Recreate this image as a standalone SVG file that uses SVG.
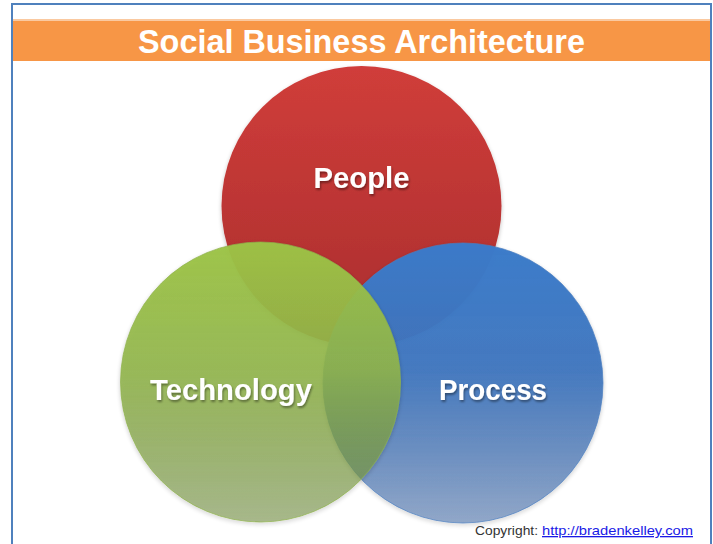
<svg xmlns="http://www.w3.org/2000/svg" width="713" height="544" viewBox="0 0 713 544">
  <defs>
    <linearGradient id="gRed" x1="0" y1="0" x2="0" y2="1">
      <stop offset="0" stop-color="#D03D3A"/>
      <stop offset="1" stop-color="#A92E2E"/>
    </linearGradient>
    <linearGradient id="gBlue" x1="0" y1="0" x2="0" y2="1">
      <stop offset="0" stop-color="#3A7BCA" stop-opacity="0.99"/>
      <stop offset="0.45" stop-color="#3E75BE" stop-opacity="0.95"/>
      <stop offset="1" stop-color="#466EAA" stop-opacity="0.52"/>
    </linearGradient>
    <linearGradient id="gGreen" x1="0" y1="0" x2="0" y2="1">
      <stop offset="0" stop-color="#9DC446" stop-opacity="0.97"/>
      <stop offset="0.45" stop-color="#91B54A" stop-opacity="0.9"/>
      <stop offset="1" stop-color="#6E8C3C" stop-opacity="0.52"/>
    </linearGradient>
    <filter id="shadow" x="-10%" y="-10%" width="120%" height="125%">
      <feGaussianBlur in="SourceAlpha" stdDeviation="2"/>
      <feOffset dx="0" dy="2" result="b"/>
      <feComponentTransfer><feFuncA type="linear" slope="0.25"/></feComponentTransfer>
      <feMerge><feMergeNode/><feMergeNode in="SourceGraphic"/></feMerge>
    </filter>
    <filter id="tshadow" x="-10%" y="-20%" width="120%" height="150%">
      <feGaussianBlur in="SourceAlpha" stdDeviation="1"/>
      <feOffset dx="1" dy="1.5"/>
      <feComponentTransfer><feFuncA type="linear" slope="0.4"/></feComponentTransfer>
      <feMerge><feMergeNode/><feMergeNode in="SourceGraphic"/></feMerge>
    </filter>
  </defs>
  <style>
    .lbl { font-family: "Liberation Sans", Arial, sans-serif; font-weight: bold; font-size: 29px; fill: #FFFFFF; text-anchor: middle; }
    .title { font-family: "Liberation Sans", Arial, sans-serif; font-weight: bold; font-size: 33px; fill: #FFFFFF; text-anchor: middle; }
    .copy { font-family: "Liberation Sans", Arial, sans-serif; font-size: 13px; fill: #333333; }
    .link { font-family: "Liberation Sans", Arial, sans-serif; font-size: 13px; fill: #1A1AE6; text-decoration: underline; }
  </style>
  <rect x="0" y="0" width="713" height="544" fill="#FFFFFF"/>
  <rect x="12" y="4" width="699" height="560" fill="none" stroke="#4F81BD" stroke-width="2"/>
  <g id="title">
    <rect x="13" y="19" width="697" height="2" fill="#FAC9A0"/>
    <rect x="13" y="21" width="697" height="40" fill="#F79646"/>
    <text class="title" x="361.5" y="53" textLength="447" lengthAdjust="spacingAndGlyphs">Social Business Architecture</text>
  </g>
  <g id="people">
    <circle cx="361.5" cy="206" r="140" fill="url(#gRed)" filter="url(#shadow)"/>
  </g>
  <g id="process">
    <circle cx="463" cy="383" r="140" fill="url(#gBlue)" stroke="#4A7EBF" stroke-opacity="0.7" stroke-width="1" filter="url(#shadow)"/>
  </g>
  <g id="technology">
    <circle cx="260.5" cy="382" r="140" fill="url(#gGreen)" stroke="#8DB04A" stroke-opacity="0.7" stroke-width="1" filter="url(#shadow)"/>
  </g>
  <g id="labels" filter="url(#tshadow)">
    <text class="lbl" x="361.5" y="188" textLength="96" lengthAdjust="spacingAndGlyphs">People</text>
    <text class="lbl" x="493" y="400" textLength="108" lengthAdjust="spacingAndGlyphs">Process</text>
    <text class="lbl" x="231" y="400" textLength="162" lengthAdjust="spacingAndGlyphs">Technology</text>
  </g>
  <g id="copyright">
    <text class="copy" x="475" y="535" textLength="63" lengthAdjust="spacingAndGlyphs">Copyright:</text>
    <text class="link" x="542" y="535" textLength="151" lengthAdjust="spacingAndGlyphs">http://bradenkelley.com</text>
  </g>
</svg>
